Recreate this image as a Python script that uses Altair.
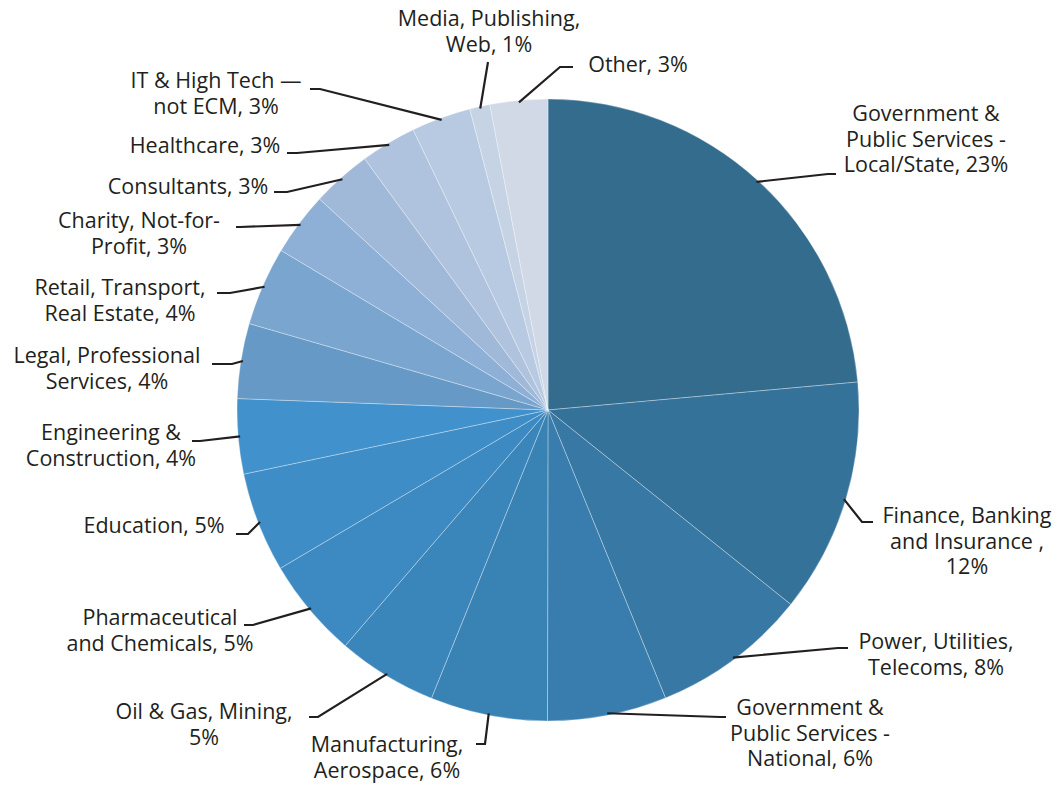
import altair as alt
import numpy as np
import pandas as pd

# ---- data ----
categories = [
    "Government & Public Services - Local/State",
    "Finance, Banking and Insurance",
    "Power, Utilities, Telecoms",
    "Government & Public Services - National",
    "Manufacturing, Aerospace",
    "Oil & Gas, Mining",
    "Pharmaceutical and Chemicals",
    "Education",
    "Engineering & Construction",
    "Legal, Professional Services",
    "Retail, Transport, Real Estate",
    "Charity, Not-for-Profit",
    "Consultants",
    "Healthcare",
    "IT & High Tech not ECM",
    "Media, Publishing, Web",
    "Other",
]
shares = [23.6, 12.2, 8.1, 6.2, 6.1, 5.2, 5.2, 5.2, 3.9, 3.9, 4.1, 3.3, 3.1, 2.9, 3.1, 1.05, 3.0]
label_texts = [
    "Government &\nPublic Services -\nLocal/State, 23%",
    "Finance, Banking\nand Insurance ,\n12%",
    "Power, Utilities,\nTelecoms, 8%",
    "Government &\nPublic Services -\nNational, 6%",
    "Manufacturing,\nAerospace, 6%",
    "Oil & Gas, Mining,\n5%",
    "Pharmaceutical\nand Chemicals,  5%",
    "Education, 5%",
    "Engineering &\nConstruction, 4%",
    "Legal, Professional\nServices, 4%",
    "Retail, Transport,\nReal Estate,  4%",
    "Charity, Not-for-\nProfit, 3%",
    "Consultants, 3%",
    "Healthcare, 3%",
    "IT & High Tech \u2014\nnot ECM, 3%",
    "Media, Publishing,\nWeb, 1%",
    "Other, 3%",
]

# ---- styles ----
palette = ["#346c8e", "#35729a", "#3778a4", "#387dad", "#3982b4", "#3a86bb",
           "#3c8ac1", "#3e8dc6", "#4192cc", "#6699c6", "#7aa5cf", "#8eb0d6",
           "#a0b9d9", "#afc3de", "#b8cae1", "#c5d3e5", "#d1d9e6"]

# ---- layout (page pixel coordinates; label y = first line centre) ----
CX, CY, R = 548, 410, 311
label_x = [926, 967, 936, 810, 387, 204, 160, 154, 111, 107, 120, 139, 188, 205, 216, 489, 638]
label_y = [115, 517, 643, 709, 746, 713, 619, 527, 434, 357, 289, 222, 188, 147, 82, 20, 66]
elbow_x = [828, 862, 838, 720, 485, 318, 253, 248, 200, 232, 230, 240, 287, 297, 320, 488, 560]
elbow_y = [174, 522, 648, 717, 744, 717, 625, 534, 441, 364, 293, 227, 192, 153, 89, 62, 67]
end_x = [836, 873, 848, 726, 476, 309, 244, 236, 192, 212, 217, 236, 274, 287, 310, 488, 573]
end_y = [174, 522, 648, 717, 744, 717, 625, 534, 441, 364, 293, 227, 192, 153, 89, 62, 67]

n = len(categories)
df = pd.DataFrame({"cat": categories, "share": shares, "idx": list(range(n)),
                   "label": label_texts, "lx": label_x, "ly": label_y})

vals = np.array(shares)
cum = np.cumsum(vals)
mid = (cum - vals / 2) / vals.sum() * 2 * np.pi
sx = CX + (R - 2) * np.sin(mid)
sy = CY - (R - 2) * np.cos(mid)

rows = []
for i in range(n):
    rows.append({"cat": categories[i], "pt": 0, "x": sx[i], "y": sy[i]})
    rows.append({"cat": categories[i], "pt": 1, "x": elbow_x[i], "y": elbow_y[i]})
    rows.append({"cat": categories[i], "pt": 2, "x": end_x[i], "y": end_y[i]})
lines_df = pd.DataFrame(rows)

W, H = 1046, 775
xs = alt.Scale(domain=[8, 8 + W], nice=False, zero=False)
ys = alt.Scale(domain=[8, 8 + H], nice=False, zero=False, reverse=True)

pie = alt.Chart(df).mark_arc(radius=R, stroke="#ffffff", strokeWidth=0.7, strokeOpacity=0.45).encode(
    theta=alt.Theta("share:Q", stack=True),
    order=alt.Order("idx:Q"),
    color=alt.Color("cat:N", scale=alt.Scale(domain=categories, range=palette), legend=None),
    x=alt.value(CX - 8),
    y=alt.value(CY - 8),
)

leaders = alt.Chart(lines_df).mark_line(color="#231f20", strokeWidth=2.2).encode(
    x=alt.X("x:Q", scale=xs, axis=None),
    y=alt.Y("y:Q", scale=ys, axis=None),
    detail="cat:N",
    order="pt:Q",
)

labels = alt.Chart(df).mark_text(
    align="center", baseline="middle", lineBreak="\n", lineHeight=25.5,
    font="Open Sans", fontSize=21.5, color="#231f20",
).encode(
    x=alt.X("lx:Q", scale=xs, axis=None),
    y=alt.Y("ly:Q", scale=ys, axis=None),
    text="label:N",
)

chart = alt.layer(pie, leaders, labels).properties(
    width=W, height=H, autosize=alt.AutoSizeParams(type="none"), padding=0
).configure_view(stroke=None)

chart.save("out.html", embed_options={"renderer": "svg", "actions": False})
